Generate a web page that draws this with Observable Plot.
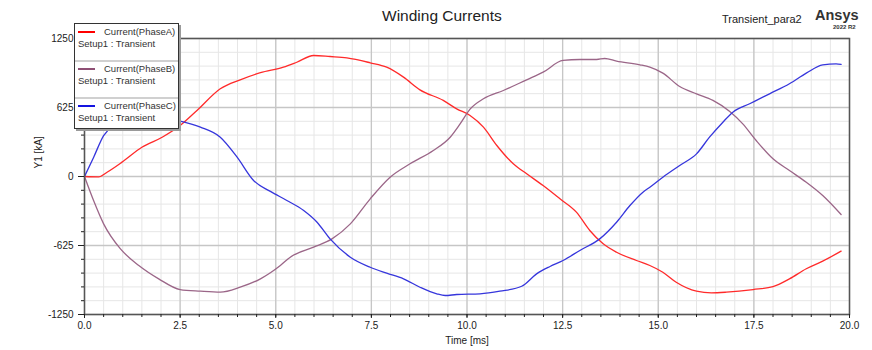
<!DOCTYPE html>
<html><head><meta charset="utf-8">
<script src="https://cdn.jsdelivr.net/npm/d3@7"></script>
<script src="https://cdn.jsdelivr.net/npm/@observablehq/plot@0.6"></script>
<style>
body{margin:0;background:#fff;font-family:"Liberation Sans",Arial,sans-serif;}
#wrap{position:relative;width:872px;height:350px;overflow:hidden;background:#fff}
.abs{position:absolute;white-space:nowrap;color:#222}
#legend{position:absolute;left:74px;top:23px;width:103px;height:104px;background:#fff;border:1px solid #333;box-shadow:2px 2px 0 #9a9a9a;font-size:9.5px;color:#333}
.sep{position:absolute;left:0;right:0;height:2px;background:#d0d0d0}
.sw{position:absolute;left:3px;width:17px;height:2px}
</style></head><body><div id="wrap"></div>
<script>
const seriesNames = ["Current(PhaseA)", "Current(PhaseB)", "Current(PhaseC)"];
const seriesSub = "Setup1 : Transient";
const lineColors = ["#ff2a2a", "#9b6688", "#3636dc"];
const swatchColors = ["#ff0000", "#8e4f74", "#1414e0"];
const title = "Winding Currents";
const designName = "Transient_para2";
const brand = "Ansys";
const brandVersion = "2022 R2";
const xLabel = "Time [ms]";
const yLabel = "Y1 [kA]";
const xMajorTicks = [0, 2.5, 5, 7.5, 10, 12.5, 15, 17.5, 20];
const yMajorTicks = [-1250, -625, 0, 625, 1250];
const xMinorTicks = d3.range(0, 20.001, 0.5);
const yMinorTicks = d3.range(-1250, 1250.001, 125);

const tA = [0,0.37,0.59,0.98,1.5,2.03,2.5,2.94,3.55,4.07,4.6,5.2,5.55,5.99,6.42,6.86,7.47,7.9,8.34,8.77,9.38,9.73,10.08,10.43,10.78,11.21,11.56,11.99,12.43,12.86,13.21,13.56,13.91,14.43,14.78,15.12,15.47,16.0,16.39,16.78,17.48,18.0,18.43,18.87,19.3,19.78];
const vA = [0,-3,39,130,265,356,462,598,795,876,940,990,1035,1096,1087,1075,1030,990,900,785,689,613,553,447,281,115,24,-82,-202,-323,-489,-610,-686,-761,-806,-867,-958,-1039,-1054,-1048,-1024,-997,-927,-836,-767,-676];

const tB = [0,0.24,0.5,0.94,1.42,1.94,2.5,3.03,3.55,4.07,4.6,4.86,5.12,5.38,5.99,6.47,6.95,7.47,7.99,8.51,9.12,9.56,9.82,10.08,10.43,10.95,11.56,11.99,12.51,12.95,13.39,13.6,13.91,14.52,14.78,15.12,15.56,16.0,16.43,16.87,17.21,17.56,18.0,18.43,18.87,19.3,19.78];
const vB = [0,-220,-429,-656,-806,-927,-1024,-1039,-1048,-1003,-927,-872,-806,-731,-640,-565,-429,-202,-6,115,236,356,477,610,704,779,876,945,1051,1060,1060,1069,1045,1012,990,936,815,749,689,589,477,326,160,54,-52,-172,-344];

const tC = [0,0.24,0.5,0.75,1.0,1.5,2.0,2.5,3.03,3.55,3.99,4.42,4.86,5.29,5.73,6.08,6.42,6.95,7.47,7.9,8.34,8.77,9.21,9.43,9.73,10.34,10.86,11.43,11.82,12.17,12.51,12.95,13.47,13.91,14.26,14.6,14.78,15.12,15.56,16.0,16.34,16.69,16.95,17.39,17.91,18.43,18.87,19.3,19.65,19.78];
const vC = [0,175,371,460,505,535,530,501,447,356,175,-36,-135,-217,-308,-414,-565,-731,-822,-876,-927,-1003,-1063,-1078,-1069,-1063,-1039,-994,-882,-815,-761,-670,-565,-414,-263,-142,-97,-6,100,205,356,492,583,659,749,840,936,1012,1021,1015];

const rows = [];
[[tA, vA], [tB, vB], [tC, vC]].forEach(([ts, vs], i) => {
  ts.forEach((t, j) => rows.push({t, v: vs[j], series: seriesNames[i]}));
});

const chart = Plot.plot({
  width: 872, height: 350,
  marginLeft: 84, marginRight: 23, marginTop: 38, marginBottom: 36,
  x: {domain: [0, 20]},
  y: {domain: [-1250, 1250]},
  color: {domain: seriesNames, range: lineColors},
  style: {fontFamily: "Liberation Sans, Arial, sans-serif", fontSize: "10px", color: "#222", background: "white"},
  marks: [
    Plot.gridX(xMinorTicks, {stroke: "#e6e6e6", strokeOpacity: 1, strokeWidth: 1}),
    Plot.gridY(yMinorTicks, {stroke: "#e6e6e6", strokeOpacity: 1, strokeWidth: 1}),
    Plot.gridX(xMajorTicks, {stroke: "#c6c6c6", strokeOpacity: 1, strokeWidth: 1.3}),
    Plot.gridY(yMajorTicks, {stroke: "#c6c6c6", strokeOpacity: 1, strokeWidth: 1.3}),
    Plot.line(rows, {x: "t", y: "v", z: "series", stroke: "series", strokeWidth: 1.3, curve: "monotone-x"}),
    Plot.frame({stroke: "#555", strokeWidth: 1.5}),
    Plot.axisX(xMinorTicks, {tickSize: 3, text: null, stroke: "#222", label: null}),
    Plot.axisX(xMajorTicks, {tickSize: 4, tickPadding: 3, tickFormat: d => d.toFixed(1), stroke: "#222", fill: "#222", label: null}),
    Plot.axisY(yMinorTicks, {tickSize: 3, text: null, stroke: "#222", label: null}),
    Plot.axisY(yMajorTicks, {tickSize: 6, tickPadding: 5, tickFormat: d => String(d), stroke: "#222", fill: "#222", label: null}),
    Plot.text([xLabel], {text: d => d, frameAnchor: "bottom", dy: 29, fontSize: 10, fill: "#222"}),
    Plot.text([yLabel], {text: d => d, frameAnchor: "left", dx: -46, dy: -8, rotate: -90, fontSize: 10, fill: "#222"})
  ]
});

const wrap = document.getElementById("wrap");
wrap.appendChild(chart);

function addText(txt, css) {
  const d = document.createElement("div");
  d.className = "abs";
  d.textContent = txt;
  Object.assign(d.style, css);
  wrap.appendChild(d);
  return d;
}
addText(title, {left: "382px", top: "7px", fontSize: "15.5px", color: "#222"});
addText(designName, {left: "722px", top: "13px", fontSize: "11px", color: "#222"});
addText(brand, {left: "815px", top: "7px", fontSize: "14.5px", fontWeight: "bold", color: "#333"});
addText(brandVersion, {left: "833px", top: "24px", fontSize: "6px", fontWeight: "bold", color: "#333"});

const lg = document.createElement("div");
lg.id = "legend";
wrap.appendChild(lg);
const entryTop = [0, 37, 74];
seriesNames.forEach((name, i) => {
  const y0 = entryTop[i];
  const sw = document.createElement("div");
  sw.className = "sw";
  sw.style.top = (y0 + 7) + "px";
  sw.style.background = swatchColors[i];
  lg.appendChild(sw);
  const a = document.createElement("div");
  a.className = "abs";
  a.style.left = "29px"; a.style.top = (y0 + 2) + "px"; a.style.color = "#333";
  a.textContent = name;
  lg.appendChild(a);
  const b = document.createElement("div");
  b.className = "abs";
  b.style.left = "3px"; b.style.top = (y0 + 14) + "px"; b.style.color = "#333";
  b.textContent = seriesSub;
  lg.appendChild(b);
  if (i > 0) {
    const s = document.createElement("div");
    s.className = "sep";
    s.style.top = (y0 - 1) + "px";
    lg.appendChild(s);
  }
});
</script>
</body></html>
